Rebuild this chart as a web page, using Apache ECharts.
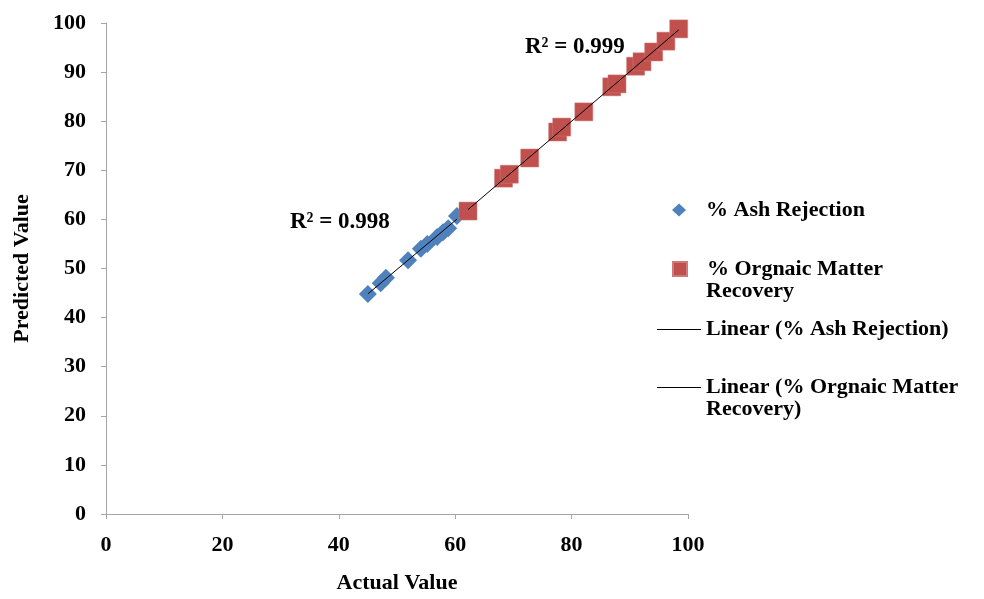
<!DOCTYPE html>
<html>
<head>
<meta charset="utf-8">
<script src="https://cdn.jsdelivr.net/npm/echarts@6/dist/echarts.min.js"></script>
<style>
  html, body { margin: 0; padding: 0; background: #fff; }
  #chart { width: 984px; height: 599px; }
</style>
</head>
<body>
<div id="chart"></div>
<script>
const ashActual = [45.0, 47.2, 48.1, 51.9, 54.1, 55.2, 56.9, 57.9, 58.8, 60.3]
const ashPredicted = [44.8, 47.0, 48.1, 51.7, 54.0, 55.0, 56.4, 57.4, 58.2, 60.7]

const omActual = [62.2, 68.3, 69.3, 72.8, 77.6, 78.3, 82.1, 86.9, 87.8, 91.0, 92.1, 94.1, 96.2, 98.4]
const omPredicted = [61.7, 68.4, 69.2, 72.5, 77.8, 78.8, 81.9, 87.0, 87.6, 91.2, 92.1, 94.1, 96.3, 98.8]

const xTicks = [0, 20, 40, 60, 80, 100]
const yTicks = [0, 10, 20, 30, 40, 50, 60, 70, 80, 90, 100]

const seriesNames = [
  '% Ash Rejection',
  '% Orgnaic Matter',
  'Linear (% Ash Rejection)',
  'Linear (% Orgnaic Matter'
]

const font = "'Liberation Serif', 'Times New Roman', serif"
const fs = 22

// least squares fit, drawn between the smallest and largest x
const trend = (xs, ys) => {
  const n = xs.length
  const mx = xs.reduce((a, b) => a + b, 0) / n
  const my = ys.reduce((a, b) => a + b, 0) / n
  let sxy = 0
  let sxx = 0
  xs.forEach((x, i) => {
    sxy += (x - mx) * (ys[i] - my)
    sxx += (x - mx) * (x - mx)
  })
  const k = sxy / sxx
  const b = my - k * mx
  const x0 = Math.min(...xs)
  const x1 = Math.max(...xs)
  return [[x0, k * x0 + b], [x1, k * x1 + b]]
}

const pairs = (xs, ys) => xs.map((x, i) => [x, ys[i]])

const chart = echarts.init(document.getElementById('chart'))

const boldText = {
  fontFamily: font,
  fontWeight: 'bold',
  fontSize: fs,
  color: '#000'
}

const legendBase = {
  orient: 'vertical',
  left: 652,
  itemWidth: 44,
  itemHeight: 14,
  selectedMode: false,
  textStyle: boldText
}

// marker legends: small icon, text pushed right to line up with the line legends
const markerLegend = {
  ...legendBase,
  left: 667,
  itemWidth: 14,
  textStyle: { ...boldText, padding: [0, 0, 0, 15] }
}

const option = {
  backgroundColor: '#fff',
  animation: false,

  grid: {
    left: 106,
    right: 296,
    top: 23,
    bottom: 85
  },

  legend: [
    { ...markerLegend, top: 194, itemHeight: 13, data: [seriesNames[0]] },
    { ...markerLegend, top: 253, data: [seriesNames[1]] },
    { ...legendBase, top: 313.5, itemHeight: 1, data: [{ name: seriesNames[2], icon: 'rect' }] },
    { ...legendBase, top: 371.5, itemHeight: 1, data: [{ name: seriesNames[3], icon: 'rect' }] }
  ],

  xAxis: {
    type: 'value',
    min: xTicks[0],
    max: xTicks[xTicks.length - 1],
    interval: 20,
    name: 'Actual Value',
    nameLocation: 'middle',
    nameGap: 58,
    nameTextStyle: boldText,
    axisLine: { lineStyle: { color: '#a6a6a6', width: 1 } },
    axisTick: { show: true, length: 5, lineStyle: { color: '#a6a6a6' } },
    axisLabel: { ...boldText, margin: 20 },
    splitLine: { show: false }
  },

  yAxis: {
    type: 'value',
    min: yTicks[0],
    max: yTicks[yTicks.length - 1],
    interval: 10,
    name: 'Predicted Value',
    nameLocation: 'middle',
    nameGap: 73,
    nameTextStyle: boldText,
    axisLine: { show: true, lineStyle: { color: '#a6a6a6', width: 1 } },
    axisTick: { show: true, length: 5, lineStyle: { color: '#a6a6a6' } },
    axisLabel: { ...boldText, margin: 20 },
    splitLine: { show: false }
  },

  series: [
    {
      name: seriesNames[0],
      type: 'scatter',
      symbol: 'diamond',
      symbolSize: 18,
      data: pairs(ashActual, ashPredicted),
      itemStyle: { color: '#4f81bd', opacity: 1 },
      z: 3
    },
    {
      name: seriesNames[1],
      type: 'scatter',
      symbol: 'rect',
      symbolSize: 18,
      data: pairs(omActual, omPredicted),
      itemStyle: { color: '#c0504d', opacity: 1, borderColor: '#d07a78', borderWidth: 0.5 },
      z: 3
    },
    {
      name: seriesNames[2],
      type: 'line',
      symbol: 'none',
      data: trend(ashActual, ashPredicted),
      lineStyle: { color: '#000', width: 1 },
      itemStyle: { color: '#000' },
      z: 4
    },
    {
      name: seriesNames[3],
      type: 'line',
      symbol: 'none',
      data: trend(omActual, omPredicted),
      lineStyle: { color: '#000', width: 1 },
      itemStyle: { color: '#000' },
      z: 4
    }
  ],

  graphic: [
    {
      type: 'text',
      left: 706,
      top: 280,
      style: { text: 'Recovery', font: 'bold ' + fs + 'px ' + font, fill: '#000' }
    },
    {
      type: 'text',
      left: 706,
      top: 398,
      style: { text: 'Recovery)', font: 'bold ' + fs + 'px ' + font, fill: '#000' }
    },
    {
      type: 'text',
      left: 290,
      top: 211,
      style: { text: 'R² = 0.998', font: 'bold 23px ' + font, fill: '#000' }
    },
    {
      type: 'text',
      left: 525,
      top: 36,
      style: { text: 'R² = 0.999', font: 'bold 23px ' + font, fill: '#000' }
    }
  ]
}

chart.setOption(option)
</script>
</body>
</html>
